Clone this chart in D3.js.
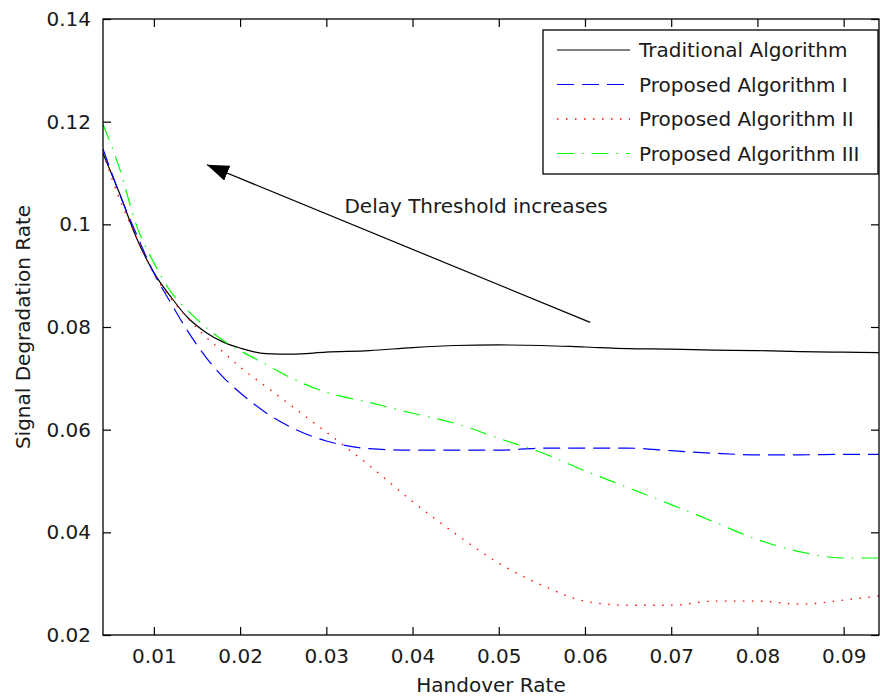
<!DOCTYPE html>
<html>
<head>
<meta charset="utf-8">
<script src="https://cdn.jsdelivr.net/npm/d3@7"></script>
<style>
  body { margin: 0; background: #fff; }
  text { font-family: "DejaVu Sans", sans-serif; fill: #1a1a1a; }
</style>
</head>
<body>
<svg id="chart" width="880" height="699"></svg>
<script>
// Handover rate samples (x) shared by all series
const handoverRate = [0.0041, 0.006, 0.008, 0.010, 0.012, 0.014, 0.016, 0.018, 0.020, 0.023,
  0.026, 0.030, 0.035, 0.040, 0.045, 0.050, 0.055, 0.060, 0.065, 0.070, 0.075, 0.080, 0.085, 0.090, 0.0941];

// Signal degradation rate
const traditional = [0.1138, 0.1061, 0.0973, 0.0906, 0.0858, 0.0817, 0.0790, 0.0771, 0.0759, 0.0748,
  0.0747, 0.0751, 0.0754, 0.0760, 0.0764, 0.0765, 0.0764, 0.0761, 0.0758, 0.0757, 0.0755, 0.0754, 0.0752, 0.0751, 0.0750];
const proposedI = [0.1147, 0.1060, 0.0980, 0.0905, 0.0846, 0.0790, 0.0742, 0.0703, 0.0672, 0.0633,
  0.0604, 0.0578, 0.0563, 0.0560, 0.0560, 0.0560, 0.0564, 0.0564, 0.0564, 0.0559, 0.0554, 0.0551, 0.0551, 0.0552, 0.0552];
const proposedII = [0.1140, 0.1050, 0.0975, 0.0903, 0.0855, 0.0816, 0.0781, 0.0752, 0.0722, 0.0684,
  0.0646, 0.0595, 0.0530, 0.0460, 0.0397, 0.0340, 0.0297, 0.0266, 0.0258, 0.0258, 0.0266, 0.0266, 0.0260, 0.0268, 0.0276];
const proposedIII = [0.1195, 0.1110, 0.0997, 0.0925, 0.0868, 0.0831, 0.0800, 0.0774, 0.0754, 0.0727,
  0.0700, 0.0673, 0.0653, 0.0632, 0.0612, 0.0583, 0.0555, 0.0520, 0.0487, 0.0454, 0.0420, 0.0386, 0.0362, 0.0350, 0.0350];

const seriesNames = ['Traditional Algorithm', 'Proposed Algorithm I', 'Proposed Algorithm II', 'Proposed Algorithm III'];
const xTicks = [0.01, 0.02, 0.03, 0.04, 0.05, 0.06, 0.07, 0.08, 0.09];
const yTicks = [0.02, 0.04, 0.06, 0.08, 0.10, 0.12, 0.14];

// Annotation arrow (data coords)
const arrowFrom = [0.0606, 0.0809];
const arrowTo = [0.01615, 0.1116];
const arrowLabel = 'Delay Threshold increases';
const arrowLabelAt = [0.0321, 0.1023];

const svg = d3.select('#chart');
const margin = { top: 19, right: 1, bottom: 64, left: 103 };
const width = 880, height = 699;

const xScale = d3.scaleLinear()
  .domain([0.0041, 0.0941])
  .range([margin.left, width - margin.right]);

const yScale = d3.scaleLinear()
  .domain([0.02, 0.14])
  .range([height - margin.bottom, margin.top]);

const styles = [
  { color: '#000000', dash: null, w: 1.2 },
  { color: '#0000ff', dash: '17,8', w: 1.2 },
  { color: '#ff0000', dash: '1.5,7.5', w: 1.3 },
  { color: '#00ff00', dash: '17,8,1.5,8', w: 1.2 }
];
const allSeries = [traditional, proposedI, proposedII, proposedIII];

svg.append('rect').attr('width', width).attr('height', height).attr('fill', '#fff');

svg.append('clipPath').attr('id', 'clip')
  .append('rect')
  .attr('x', margin.left).attr('y', margin.top)
  .attr('width', width - margin.left - margin.right)
  .attr('height', height - margin.top - margin.bottom);

// Curves
const line = d3.line()
  .x((d, i) => xScale(handoverRate[i]))
  .y(d => yScale(d))
  .curve(d3.curveMonotoneX);

svg.append('g').attr('clip-path', 'url(#clip)')
  .selectAll('path')
  .data(allSeries)
  .join('path')
  .attr('d', line)
  .attr('fill', 'none')
  .attr('stroke', (d, i) => styles[i].color)
  .attr('stroke-width', (d, i) => styles[i].w)
  .attr('stroke-dasharray', (d, i) => styles[i].dash);

// Axes (MATLAB style, ticks inward, box all round)
const tickLen = 8;
const axisStyle = g => {
  g.select('.domain').remove();
  g.selectAll('.tick line').attr('stroke', '#000').attr('stroke-width', 1.2);
  g.selectAll('.tick text').attr('font-size', 20).attr('font-family', '"DejaVu Sans", sans-serif').attr('fill', '#1a1a1a');
};
const yFmt = d => String(+d.toFixed(2));

svg.append('g')
  .attr('transform', `translate(0, ${yScale(0.02)})`)
  .call(d3.axisBottom(xScale).tickValues(xTicks).tickFormat(yFmt).tickSizeInner(-tickLen).tickPadding(14))
  .call(axisStyle);

svg.append('g')
  .attr('transform', `translate(0, ${yScale(0.14)})`)
  .call(d3.axisTop(xScale).tickValues(xTicks).tickFormat('').tickSizeInner(-tickLen))
  .call(axisStyle);

svg.append('g')
  .attr('transform', `translate(${xScale(0.0041)}, 0)`)
  .call(d3.axisLeft(yScale).tickValues(yTicks).tickFormat(yFmt).tickSizeInner(-tickLen).tickPadding(12))
  .call(axisStyle);

svg.append('g')
  .attr('transform', `translate(${xScale(0.0941)}, 0)`)
  .call(d3.axisRight(yScale).tickValues(yTicks).tickFormat('').tickSizeInner(-tickLen))
  .call(axisStyle);

// Plot box
svg.append('rect')
  .attr('x', xScale(0.0041)).attr('y', yScale(0.14))
  .attr('width', xScale(0.0941) - xScale(0.0041))
  .attr('height', yScale(0.02) - yScale(0.14))
  .attr('fill', 'none').attr('stroke', '#000').attr('stroke-width', 1.3);

// Axis labels
svg.append('text')
  .attr('x', (xScale.range()[0] + xScale.range()[1]) / 2)
  .attr('y', 692)
  .attr('text-anchor', 'middle')
  .attr('font-size', 20)
  .text('Handover Rate');

svg.append('text')
  .attr('transform', `translate(30, ${(yScale.range()[0] + yScale.range()[1]) / 2}) rotate(-90)`)
  .attr('text-anchor', 'middle')
  .attr('font-size', 20)
  .text('Signal Degradation Rate');

// Annotation arrow
svg.append('defs').append('marker')
  .attr('id', 'arrowhead')
  .attr('viewBox', '0 0 22 16')
  .attr('refX', 22).attr('refY', 8)
  .attr('markerWidth', 22).attr('markerHeight', 16)
  .attr('markerUnits', 'userSpaceOnUse')
  .attr('orient', 'auto')
  .append('path')
  .attr('d', 'M0,0 L22,8 L0,16 Z')
  .attr('fill', '#000');

svg.append('line')
  .attr('x1', xScale(arrowFrom[0])).attr('y1', yScale(arrowFrom[1]))
  .attr('x2', xScale(arrowTo[0])).attr('y2', yScale(arrowTo[1]))
  .attr('stroke', '#000').attr('stroke-width', 1.2)
  .attr('marker-end', 'url(#arrowhead)');

svg.append('text')
  .attr('x', xScale(arrowLabelAt[0])).attr('y', yScale(arrowLabelAt[1]))
  .attr('font-size', 20)
  .text(arrowLabel);

// Legend
const legend = svg.append('g');
legend.append('rect')
  .attr('x', 543).attr('y', 30).attr('width', 335).attr('height', 144)
  .attr('fill', '#fff').attr('stroke', '#000').attr('stroke-width', 1.3);

const rows = legend.selectAll('g.row')
  .data(seriesNames)
  .join('g')
  .attr('class', 'row')
  .attr('transform', (d, i) => `translate(0, ${50 + i * 34.5})`);

rows.append('line')
  .attr('x1', 557).attr('x2', 630)
  .attr('stroke', (d, i) => styles[i].color)
  .attr('stroke-width', (d, i) => styles[i].w)
  .attr('stroke-dasharray', (d, i) => styles[i].dash);

rows.append('text')
  .attr('x', 639).attr('y', 7)
  .attr('font-size', 20)
  .text(d => d);
</script>
</body>
</html>
